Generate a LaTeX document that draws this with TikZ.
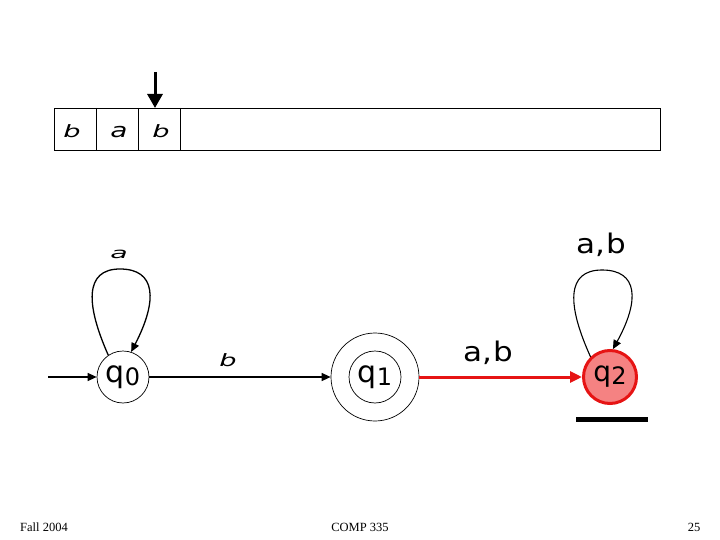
\documentclass[tikz,border=0pt]{standalone}
\usepackage{fontspec}
\setmainfont{DejaVu Sans}
\newfontfamily\footfont{Liberation Serif}
\usetikzlibrary{arrows.meta}
\definecolor{redline}{RGB}{230,20,20}
\definecolor{redfill}{RGB}{245,130,130}
\tikzset{
  state/.style={circle,draw,line width=0.7pt,minimum size=52pt,inner sep=0pt,font=\fontsize{30}{30}\selectfont},
  edge/.style={line width=1.3pt,-{Triangle[length=9pt,width=8pt]}},
  lbl/.style={inner sep=0pt},
  biglbl/.style={font=\fontsize{27}{27}\selectfont,inner sep=0pt},
  foot/.style={font=\footfont\fontsize{12.5}{12.5}\selectfont},
  cell/.style={draw,line width=0.7pt,minimum height=42pt,inner sep=0pt}
}
\newcommand{\qlab}[1]{q\raisebox{-0.2ex}{\fontsize{24}{24}\selectfont #1}}
\newcommand{\wb}{\scalebox{1.6}[1]{\fontsize{17}{17}\selectfont\itshape b}}
\newcommand{\wa}{\scalebox{1.4}[1]{\fontsize{20}{20}\selectfont\itshape a}}
\newcommand{\wsa}{\scalebox{1.9}[1]{\fontsize{15}{15}\selectfont\itshape a}}
\newcommand{\ab}{\scalebox{1.15}[1]{a,\kern1pt b}}
\begin{document}
\begin{tikzpicture}[x=1pt,y=-1pt]
\useasboundingbox (0,0) rectangle (720,540);
% tape
\node[cell,minimum width=606pt,anchor=north west] (tape) at (54,108) {};
\draw[line width=0.7pt] (96,108) -- (96,150) (138,108) -- (138,150) (180,108) -- (180,150);
\node[lbl] (t1) at (72,131) {\wb};
\node[lbl] (t2) at (119,132) {\wa};
\node[lbl] (t3) at (161,131) {\wb};
\coordinate (headtop) at (155,72);
\coordinate (headbot) at (155,108);
\draw[line width=3pt,-{Triangle[length=14pt,width=15pt]}] (headtop) -- (headbot);
% states
\node[state] (q0) at (123,377) {\qlab{0}};
\node[circle,draw,line width=0.7pt,minimum size=88pt,inner sep=0pt] (q1) at (375,377) {};
\node[state] (q1in) at (375,377) {\qlab{1}};
\node[state,minimum size=53pt,draw=redline,fill=redfill,line width=3pt,font=\fontsize{28}{28}\selectfont] (q2) at (610,377) {\qlab{2}};
% initial arrow
\coordinate (init) at (48,377);
\draw[edge] (init) -- (q0);
% q0 -> q1
\draw[edge] (q0) -- (q1);
\node[lbl] (lb) at (228,360) {\wb};
% q1 -> q2
\draw[line width=3pt,-{Triangle[length=12pt,width=11pt]},color=redline] (q1) -- (q2);
\node[biglbl] (lab12) at (488,353) {\ab};
% loops
\draw[edge] (q0.124) .. controls (86,305) and (84,269) .. (120,269) .. controls (156,269) and (158,300) .. (q0.72);
\node[lbl] (la) at (119,254) {\wsa};
\draw[line width=1.1pt,-{Triangle[length=9pt,width=8pt]}] (q2.134) .. controls (567,305) and (566,270) .. (602,270) .. controls (638,270) and (640,300) .. (q2.84);
\node[biglbl] (lab22) at (601,245) {\ab};
% bar
\draw[line width=5pt] (576,419.5) -- (648,419.5);
% footer
\node[foot] (f1) at (44,527) {Fall 2004};
\node[foot] (f2) at (360,527) {COMP 335};
\node[foot] (f3) at (694,527) {25};
\end{tikzpicture}
\end{document}
